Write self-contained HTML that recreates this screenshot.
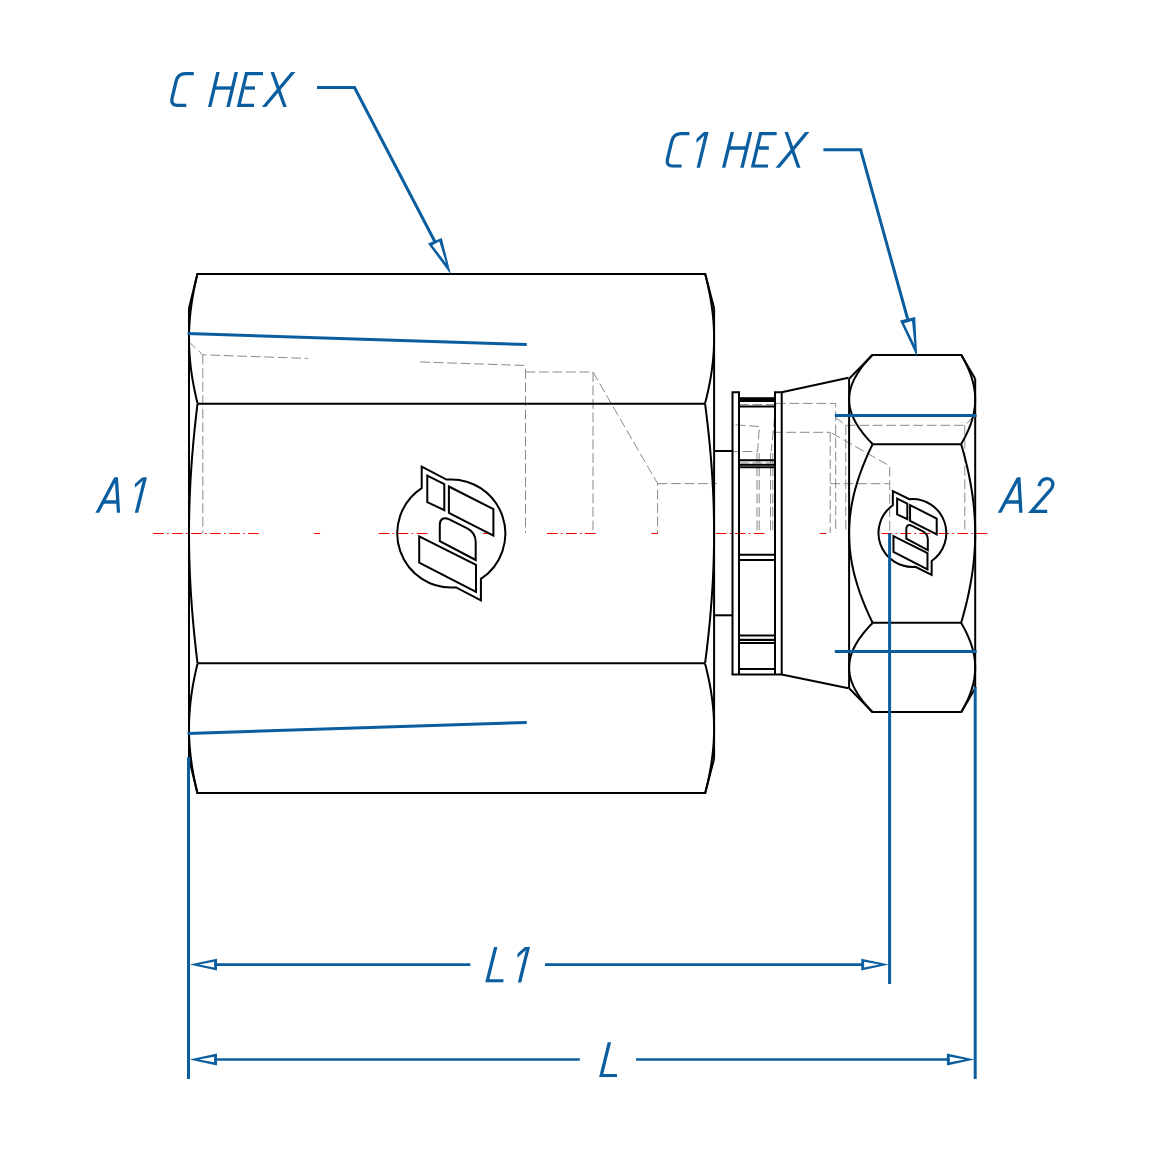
<!DOCTYPE html>
<html><head><meta charset="utf-8"><style>
html,body{margin:0;padding:0;background:#fff;width:1150px;height:1150px;overflow:hidden}
svg{display:block}
</style></head><body>
<svg width="1150" height="1150" viewBox="0 0 1150 1150">
<defs><clipPath id="tc1"><rect x="0" y="72" width="1150" height="35"/></clipPath><clipPath id="tc2"><rect x="0" y="132" width="1150" height="35.7"/></clipPath><clipPath id="tc3"><rect x="696.5" y="132" width="60" height="60"/></clipPath><clipPath id="tc4"><rect x="0" y="947" width="1150" height="35.5"/></clipPath><clipPath id="tc5"><rect x="517.4" y="947" width="60" height="60"/></clipPath><clipPath id="tc6"><rect x="0" y="1042.2" width="1150" height="35.1"/></clipPath><clipPath id="tc7"><rect x="0" y="477.5" width="1150" height="35.3"/></clipPath><clipPath id="tc8"><rect x="134.9" y="477.5" width="60" height="60"/></clipPath><clipPath id="tc9"><rect x="0" y="477.5" width="1150" height="35.3"/></clipPath></defs><rect width="1150" height="1150" fill="#fff"/>
<g fill="none" stroke="#8a8a8a" stroke-width="1" stroke-dasharray="9.8 3.7">
<polyline points="188.5,341.5 202.8,354.8 307.8,358.4"/>
<polyline points="202.8,354.8 202.8,533"/>
<polyline points="420.2,362 525.9,365.5"/>
<polyline points="525.5,369 525.5,533"/>
<polyline points="525.5,372 593,372 593,533"/>
<polyline points="593,372 657.6,483.6 657.6,533"/>
<polyline points="657.6,483.6 717,483.6"/>
<polyline points="735.6,424.9 759.4,426.5 757.5,451.5 732,451.5"/>
<polyline points="775.9,403.4 771.2,451.5"/>
<polyline points="772.7,432.3 830,432.3"/>
<polyline points="739,404.6 775,404.6"/>
<polyline points="739,462.9 775,462.9"/>
<polyline points="757,453 757,533"/>
<polyline points="759.2,453 759.2,533"/>
<polyline points="770.5,453 770.5,533"/>
<polyline points="772.8,453 772.8,533"/>
<polyline points="775.9,403.4 835.7,403.4 835.7,533"/>
<polyline points="830.2,432.3 830.2,533"/>
<polyline points="830.2,483.7 889.7,483.7"/>
<polyline points="831.7,433 889.7,466 889.7,533"/>
<polyline points="835.2,417 845.8,425.3 964.8,425.3 975,415"/>
<polyline points="845.8,425.3 845.8,533"/>
<polyline points="964.8,425.3 964.8,533"/>
</g>
<g fill="none" stroke="#ff0000" stroke-width="1" stroke-dasharray="10.7 3.3 1.5 3.5">
<line x1="153.1" y1="533.5" x2="259" y2="533.5"/>
<line x1="314.1" y1="533.5" x2="320.2" y2="533.5"/>
<line x1="378.7" y1="533.5" x2="428" y2="533.5"/>
<line x1="483" y1="533.5" x2="490" y2="533.5"/>
<line x1="547" y1="533.5" x2="596" y2="533.5"/>
<line x1="651.3" y1="533.5" x2="658" y2="533.5"/>
<line x1="715.9" y1="533.5" x2="764.5" y2="533.5"/>
<line x1="819.7" y1="533.5" x2="826.2" y2="533.5"/>
<line x1="881.5" y1="533.5" x2="988" y2="533.5"/>
</g>
<g fill="none" stroke="#000" stroke-width="2" stroke-linejoin="miter">
<polyline points="189,308.3 197.4,274 705.2,274 714.1,308.3"/>
<polyline points="189,758.7 197.4,793 705.2,793 714.1,758.7"/>
<line x1="189" y1="308.3" x2="189" y2="758.7"/>
<line x1="714.1" y1="308.3" x2="714.1" y2="758.7"/>
<line x1="197.4" y1="403.75" x2="705.2" y2="403.75"/>
<line x1="197.4" y1="663.25" x2="705.2" y2="663.25"/>
<polyline points="197.5,403.35 196.22,397.94 195.03,392.53 193.93,387.13 192.93,381.72 192.03,376.31 191.24,370.91 190.57,365.5 190.01,360.1 189.57,354.69 189.25,349.28 189.06,343.88 189,338.47 189.06,333.06 189.25,327.66 189.57,322.25 190.01,316.85 190.57,311.44 191.24,306.03 192.03,300.63 192.93,295.22 193.93,289.81 195.03,284.41 196.22,279 197.5,273.6"/>
<polyline points="197.5,663.25 196.22,652.44 195.03,641.62 193.93,630.81 192.93,620 192.03,609.19 191.24,598.38 190.57,587.56 190.01,576.75 189.57,565.94 189.25,555.12 189.06,544.31 189,533.5 189.06,522.69 189.25,511.88 189.57,501.06 190.01,490.25 190.57,479.44 191.24,468.62 192.03,457.81 192.93,447 193.93,436.19 195.03,425.38 196.22,414.56 197.5,403.75"/>
<polyline points="197.5,663.65 196.22,669.06 195.03,674.47 193.93,679.87 192.93,685.28 192.03,690.69 191.24,696.09 190.57,701.5 190.01,706.9 189.57,712.31 189.25,717.72 189.06,723.12 189,728.53 189.06,733.94 189.25,739.34 189.57,744.75 190.01,750.15 190.57,755.56 191.24,760.97 192.03,766.37 192.93,771.78 193.93,777.19 195.03,782.59 196.22,788 197.5,793.4"/>
<polyline points="705.1,403.35 706.45,397.94 707.71,392.53 708.88,387.13 709.94,381.72 710.89,376.31 711.72,370.91 712.44,365.5 713.03,360.1 713.5,354.69 713.83,349.28 714.03,343.88 714.1,338.47 714.03,333.06 713.83,327.66 713.5,322.25 713.03,316.85 712.44,311.44 711.72,306.03 710.89,300.63 709.94,295.22 708.88,289.81 707.71,284.41 706.45,279 705.1,273.6"/>
<polyline points="705.1,663.25 706.45,652.44 707.71,641.62 708.88,630.81 709.94,620 710.89,609.19 711.72,598.38 712.44,587.56 713.03,576.75 713.5,565.94 713.83,555.12 714.03,544.31 714.1,533.5 714.03,522.69 713.83,511.88 713.5,501.06 713.03,490.25 712.44,479.44 711.72,468.62 710.89,457.81 709.94,447 708.88,436.19 707.71,425.38 706.45,414.56 705.1,403.75"/>
<polyline points="705.1,663.65 706.45,669.06 707.71,674.47 708.88,679.87 709.94,685.28 710.89,690.69 711.72,696.09 712.44,701.5 713.03,706.9 713.5,712.31 713.83,717.72 714.03,723.12 714.1,728.53 714.03,733.94 713.83,739.34 713.5,744.75 713.03,750.15 712.44,755.56 711.72,760.97 710.89,766.37 709.94,771.78 708.88,777.19 707.71,782.59 706.45,788 705.1,793.4"/>
</g>
<g fill="none" stroke="#000" stroke-width="2" stroke-linejoin="miter">
<polyline points="849.1,378.7 872.4,355 961.3,355 975.2,378.7"/>
<polyline points="849.1,688.3 872.4,712 961.3,712 975.2,688.3"/>
<line x1="849.1" y1="378.7" x2="849.1" y2="688.3"/>
<line x1="975.2" y1="378.7" x2="975.2" y2="688.3"/>
<line x1="872.4" y1="444.25" x2="961.3" y2="444.25"/>
<line x1="872.4" y1="622.75" x2="961.3" y2="622.75"/>
<polyline points="872.58,444.06 869.05,440.35 865.75,436.63 862.72,432.91 859.95,429.19 857.48,425.47 855.3,421.75 853.43,418.03 851.88,414.31 850.67,410.6 849.8,406.88 849.28,403.16 849.1,399.44 849.28,395.72 849.8,392 850.67,388.28 851.88,384.56 853.43,380.85 855.3,377.13 857.48,373.41 859.95,369.69 862.72,365.97 865.75,362.25 869.05,358.53 872.58,354.81"/>
<polyline points="872.58,622.75 869.05,615.31 865.75,607.88 862.72,600.44 859.95,593 857.48,585.56 855.3,578.12 853.43,570.69 851.88,563.25 850.67,555.81 849.8,548.38 849.28,540.94 849.1,533.5 849.28,526.06 849.8,518.62 850.67,511.19 851.88,503.75 853.43,496.31 855.3,488.88 857.48,481.44 859.95,474 862.72,466.56 865.75,459.12 869.05,451.69 872.58,444.25"/>
<polyline points="872.58,622.94 869.05,626.65 865.75,630.37 862.72,634.09 859.95,637.81 857.48,641.53 855.3,645.25 853.43,648.97 851.88,652.69 850.67,656.4 849.8,660.12 849.28,663.84 849.1,667.56 849.28,671.28 849.8,675 850.67,678.72 851.88,682.44 853.43,686.15 855.3,689.87 857.48,693.59 859.95,697.31 862.72,701.03 865.75,704.75 869.05,708.47 872.58,712.19"/>
<polyline points="961.19,444.06 963.3,440.35 965.26,436.63 967.08,432.91 968.72,429.19 970.2,425.47 971.5,421.75 972.62,418.03 973.54,414.31 974.26,410.6 974.78,406.88 975.1,403.16 975.2,399.44 975.1,395.72 974.78,392 974.26,388.28 973.54,384.56 972.62,380.85 971.5,377.13 970.2,373.41 968.72,369.69 967.08,365.97 965.26,362.25 963.3,358.53 961.19,354.81"/>
<polyline points="961.19,622.75 963.3,615.31 965.26,607.88 967.08,600.44 968.72,593 970.2,585.56 971.5,578.12 972.62,570.69 973.54,563.25 974.26,555.81 974.78,548.38 975.1,540.94 975.2,533.5 975.1,526.06 974.78,518.62 974.26,511.19 973.54,503.75 972.62,496.31 971.5,488.88 970.2,481.44 968.72,474 967.08,466.56 965.26,459.12 963.3,451.69 961.19,444.25"/>
<polyline points="961.19,622.94 963.3,626.65 965.26,630.37 967.08,634.09 968.72,637.81 970.2,641.53 971.5,645.25 972.62,648.97 973.54,652.69 974.26,656.4 974.78,660.12 975.1,663.84 975.2,667.56 975.1,671.28 974.78,675 974.26,678.72 973.54,682.44 972.62,686.15 971.5,689.87 970.2,693.59 968.72,697.31 967.08,701.03 965.26,704.75 963.3,708.47 961.19,712.19"/>
</g>
<g fill="none" stroke="#000" stroke-width="2">
<line x1="714" y1="451" x2="733" y2="451"/>
<line x1="714" y1="615.3" x2="733" y2="615.3"/>
<polyline points="732.5,674.6 732.5,392.3 739,392.3 739,674.6"/>
<polyline points="775,674.6 775,392.3 781.7,392.3 781.7,674.6"/>
<line x1="731.5" y1="674.6" x2="782.7" y2="674.6"/>
<polyline points="781.7,392.3 848.5,377.7"/>
<polyline points="781.7,674.6 848.5,688.2"/>
<line x1="739" y1="406.5" x2="775" y2="406.5"/>
<line x1="739" y1="460.2" x2="775" y2="460.2"/>
<line x1="739" y1="467.2" x2="775" y2="467.2"/>
<line x1="739" y1="554.8" x2="775" y2="554.8"/>
<line x1="739" y1="560.1" x2="775" y2="560.1"/>
<line x1="739" y1="635.6" x2="775" y2="635.6"/>
<line x1="739" y1="642.9" x2="775" y2="642.9"/>
<line x1="739" y1="669" x2="775" y2="669"/>
</g>
<rect x="739" y="397.2" width="36" height="4.8" fill="#000"/>
<rect x="739" y="463.8" width="36" height="2" fill="#000"/>
<rect x="739" y="638.8" width="36" height="2.2" fill="#000"/>
<g fill="none" stroke="#000" stroke-width="2" stroke-linejoin="miter">
<path d="M446.5 479.6 A54.2 54.2 0 0 1 480.9 578.9 L480.9 600.3 L456.1 587.4 A54.2 54.2 0 0 1 421.7 488.1 L421.7 466.7 Z"/>
<path d="M427.3 475.7 L444.3 484.1 L444.3 510.1 L427.3 502.2 Z"/>
<path d="M448.9 486.5 L493.4 509.1 L493.4 535.6 L448.9 512.9 Z"/>
<path d="M419.2 536.3 L476 564.8 L476 591.9 L419.2 562.7 Z"/>
<path d="M439.8 541.1 L439.8 524.65 C439.8 519.15 443.82 516.66 448.74 519.12 L466.8 528.2 Q475.7 532.6 475.7 542 L475.7 560 Z"/>
</g>
<g fill="none" stroke="#000" stroke-width="2" stroke-linejoin="miter">
<path d="M909.39 499.2 A33.98 33.98 0 0 1 931.66 561 L931.66 574.88 L915.41 566.8 A33.98 33.98 0 0 1 892.84 505.21 L892.84 491.12 Z"/>
<path d="M897.13 498.59 L907.31 503.62 L907.31 519.19 L897.13 514.46 Z"/>
<path d="M910.06 505.06 L936.71 518.59 L936.71 534.46 L910.06 520.87 Z"/>
<path d="M893.48 536.08 L927.49 553.14 L927.49 569.37 L893.48 551.88 Z"/>
<path d="M906.31 538.75 L906.31 528.9 C906.31 525.61 908.72 524.12 911.67 525.59 L922.48 531.03 Q927.81 533.66 927.81 539.29 L927.81 550.07 Z"/>
</g>
<g fill="none" stroke="#0a5e9f" stroke-width="3">
<line x1="187.5" y1="333.5" x2="526.7" y2="344.5"/>
<line x1="187.5" y1="733.5" x2="526.7" y2="722.5"/>
<line x1="834.8" y1="415.4" x2="976.6" y2="415.4"/>
<line x1="834.8" y1="651.6" x2="976.6" y2="651.6"/>
<line x1="188.5" y1="757" x2="188.5" y2="1079"/>
<line x1="889.6" y1="533.5" x2="889.6" y2="984"/>
<line x1="975.2" y1="687" x2="975.2" y2="1079"/>
<g stroke-width="2.6">
<line x1="214" y1="964.6" x2="470.3" y2="964.6"/>
<line x1="545" y1="964.6" x2="864" y2="964.6"/>
<line x1="214" y1="1059.5" x2="579.8" y2="1059.5"/>
<line x1="636.1" y1="1059.5" x2="949.5" y2="1059.5"/>
</g>
<polyline points="317,87.6 354.5,87.6 434.8,241.5"/>
<polyline points="823.4,149.7 860.6,149.7 907.8,319.5"/>
</g>
<path fill="#0a5e9f" fill-rule="evenodd" d="M189.5 964.6 L217 958.7 L217 970.5 Z M199 964.6 L214.2 961.8 L214.2 967.4 Z M189.5 1059.5 L217 1053.6 L217 1065.4 Z M199 1059.5 L214.2 1056.7 L214.2 1062.3 Z M888.8 964.6 L861.3 958.7 L861.3 970.5 Z M879.3 964.6 L864.1 961.8 L864.1 967.4 Z M974.4 1059.5 L946.9 1053.6 L946.9 1065.4 Z M964.9 1059.5 L949.7 1056.7 L949.7 1062.3 Z M450.9 274.5 L428 243.5 L441.8 238 Z M446.1 263.3 L432.3 245.3 L439.3 241.5 Z M917.2 357 L900 320.5 L915.2 317 Z M914.4 344.5 L904 323.2 L912 321 Z"/>
<g clip-path="url(#tc1)" fill="none" stroke="#0a5e9f" stroke-width="3.3" stroke-linecap="butt" stroke-linejoin="miter" stroke-miterlimit="10">
<path d="M193.8 73.65L185.4 73.65Q177.9 73.65 176.13 81.15L172.17 97.85Q170.39 105.35 177.89 105.35L186.29 105.35"/>
<path d="M218.94 68L208.75 111"/>
<path d="M237.24 68L227.05 111"/>
<path d="M214.2 88L232.5 88"/>
<path d="M263 73.65L246.4 73.65L238.89 105.35L254.09 105.35"/>
<path d="M244.65 88L255 88"/>
<path d="M270.84 68L286.45 111"/>
<path d="M296.64 68L260.65 111"/>
</g>
<g clip-path="url(#tc2)" fill="none" stroke="#0a5e9f" stroke-width="3.3" stroke-linecap="butt" stroke-linejoin="miter" stroke-miterlimit="10">
<path d="M689.37 133.65L681.07 133.65Q673.57 133.65 671.77 141.15L667.6 158.55Q665.8 166.05 673.3 166.05L681.6 166.05"/>
<path d="M697.34 171.7L707.83 128"/>
<path d="M733.23 128L722.74 171.7"/>
<path d="M751.53 128L741.04 171.7"/>
<path d="M728.43 148L746.73 148"/>
<path d="M776.67 133.65L760.57 133.65L752.8 166.05L768 166.05"/>
<path d="M758.78 148L768.83 148"/>
<path d="M784.88 128L800.09 171.7"/>
<path d="M810.58 128L774.39 171.7"/>
</g>
<path clip-path="url(#tc3)" d="M694.3 142.84 L708.2 129.96" fill="none" stroke="#0a5e9f" stroke-width="2.9"/>
<g clip-path="url(#tc4)" fill="none" stroke="#0a5e9f" stroke-width="3.3" stroke-linecap="butt" stroke-linejoin="miter" stroke-miterlimit="10">
<path d="M496.7 943L487.31 980.85L503.41 980.85"/>
<path d="M518.51 986.5L529.3 943"/>
</g>
<path clip-path="url(#tc5)" d="M515.16 957.69 L529.44 945.01" fill="none" stroke="#0a5e9f" stroke-width="2.9"/>
<g clip-path="url(#tc6)" fill="none" stroke="#0a5e9f" stroke-width="3.3" stroke-linecap="butt" stroke-linejoin="miter" stroke-miterlimit="10">
<path d="M610.38 1038.2L601.2 1075.65L617 1075.65"/>
</g>
<g clip-path="url(#tc7)" fill="none" stroke="#0a5e9f" stroke-width="3.3" stroke-linecap="butt">
<path d="M95.43 516.33 L117.87 473.97"/>
<path d="M118.75 516.79 L116.05 473.51"/>
<path d="M102 502 H118.5"/>
<path d="M135.54 516.68 L146.16 473.62"/>
</g>
<path clip-path="url(#tc8)" d="M132.66 487.8 L146.44 475.5" fill="none" stroke="#0a5e9f" stroke-width="2.9"/>
<g clip-path="url(#tc9)" fill="none" stroke="#0a5e9f" stroke-width="3.3" stroke-linecap="butt">
<path d="M997.7 516.32 L1020.5 473.98"/>
<path d="M1021.14 516.79 L1018.56 473.51"/>
<path d="M1004.5 502 H1021"/>
</g>
<path d="M1039 486.2 C1040.3 481.3 1043.6 478.7 1047 478.7 C1050.5 478.7 1052.9 481.2 1052.9 484.3 C1052.9 486.6 1051.8 488.3 1050.2 490.2 L1031.6 511.3 H1047.2" fill="none" stroke="#0a5e9f" stroke-width="3.3" stroke-linejoin="miter"/>
</svg>
</body></html>
